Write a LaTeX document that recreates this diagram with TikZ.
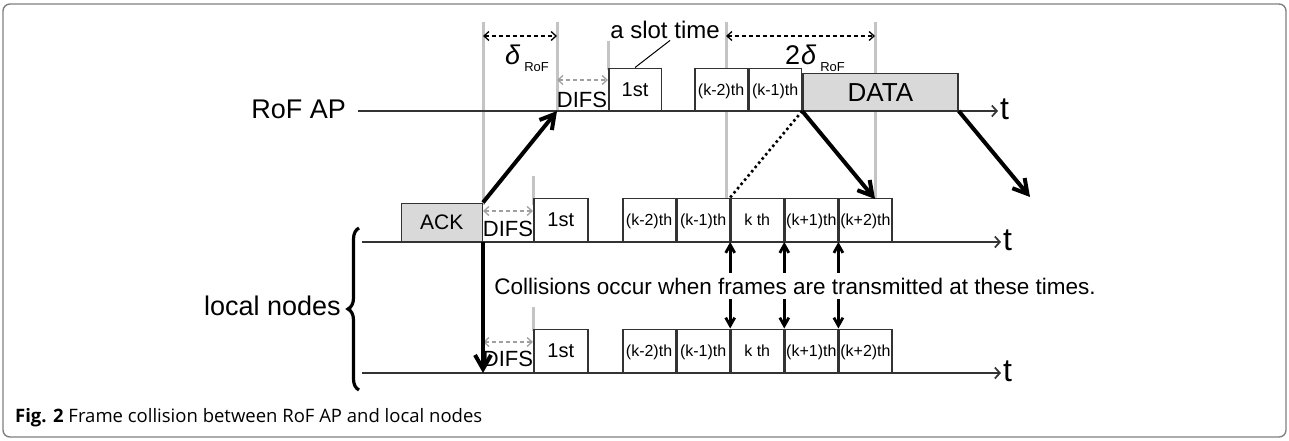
\documentclass[tikz,border=0pt]{standalone}
\usepackage{fontspec}
\setmainfont{Liberation Sans}
\newfontfamily\capfont{Open Sans}
\usetikzlibrary{positioning,arrows.meta,decorations.pathreplacing}

\definecolor{boxgray}{HTML}{D9D9D9}
\definecolor{guidegray}{HTML}{C4C4C4}
\definecolor{difsgray}{HTML}{A0A0A0}
\definecolor{axisgray}{HTML}{333333}

\tikzset{
  slotbox/.style={draw=axisgray, line width=1.5pt, fill=white, minimum width=52.6pt,
    minimum height=43pt, inner sep=0pt, text height=14.5pt, text depth=3pt,
    font=\fontsize{16}{16}\selectfont},
  firstbox/.style={slotbox, text height=17.3pt, font=\fontsize{20}{20}\selectfont},
  framebox/.style={slotbox, fill=boxgray, text height=18pt, font=\fontsize{21}{21}\selectfont},
  guide/.style={guidegray, line width=3pt},
  axis/.style={axisgray, line width=1.7pt, -{Straight Barb[length=5pt,width=11pt]}},
  span/.style={line width=1.3pt, dash pattern=on 4pt off 3pt,
    {Straight Barb[length=5pt,width=9pt]}-{Straight Barb[length=5pt,width=9pt]}},
  difs/.style={span, difsgray},
  sig/.style={line width=4pt, -{Straight Barb[length=14pt,width=16pt]}},
  hit/.style={line width=2.8pt, -{Straight Barb[length=8pt,width=9pt]}},
  big/.style={font=\fontsize{27}{27}\selectfont, inner sep=0pt},
  tlbl/.style={font=\fontsize{32}{32}\selectfont, inner sep=0pt, anchor=base west, yshift=-8pt, xshift=2pt},
  mid/.style={font=\fontsize{22}{22}\selectfont, inner sep=0pt},
}

\begin{document}
\begin{tikzpicture}[x=1pt,y=-1pt]
\useasboundingbox (0,0) rectangle (1289,440);
\draw[gray, line width=1.4pt, rounded corners=7pt] (3,4) rectangle (1286,437);

% time marks
\draw[guide] (483,22) -- (483,205);
\draw[guide] (557,22) -- (557,111);
\draw[guide] (608,41) -- (608,70);
\draw[guide] (726,22) -- (726,242);
\draw[guide] (875,22) -- (875,199);
\draw[guide] (533,176) -- (533,205);
\draw[guide] (533,307) -- (533,331);

% time axes
\node[big, anchor=base east] (apLbl) at (346,118) {RoF AP};
\coordinate (apS) at (358,111);
\coordinate (apE) at (998,111);
\coordinate (aS) at (362,242);
\coordinate (aE) at (1001,242);
\coordinate (bS) at (362,373);
\coordinate (bE) at (1001,373);
\draw[axis] (apS) -- (apE);
\draw[axis] (aS) -- (aE);
\draw[axis] (bS) -- (bE);
\node[tlbl] (apT) at (apE) {t};
\node[tlbl] (aT) at (aE) {t};
\node[tlbl] (bT) at (bE) {t};

\node[big, anchor=base east] (locLbl) at (341,315) {local nodes};
\draw[line width=3.2pt, decorate, decoration={brace, amplitude=11pt}] (359,390) -- (359,228);

% RoF AP frames
\node[firstbox, anchor=south west, minimum height=42pt] (apFirst) at (608,111) {1st};
\node[slotbox, anchor=south west, minimum height=42pt] (apM2) at (694,111) {(k-2)th};
\node[slotbox, right=0pt of apM2, minimum height=42pt] (apM1) {(k-1)th};
\node[framebox, anchor=south west, minimum width=155pt, minimum height=37pt,
  text height=21.6pt, font=\fontsize{26}{26}\selectfont] (data) at (apM1.south east) {DATA};

% local node frames
\node[framebox, anchor=south east, minimum width=81pt, minimum height=38pt] (ack) at (483,242) {ACK};
\foreach \y/\row in {242/a,373/b}{
  \node[firstbox, anchor=south west, minimum width=54pt] (\row first) at (533,\y) {1st};
  \node[slotbox, anchor=south west] (\row m2) at (622,\y) {(k-2)th};
  \node[slotbox, right=0pt of \row m2] (\row m1) {(k-1)th};
  \node[slotbox, right=0pt of \row m1] (\row k) {k th};
  \node[slotbox, right=0pt of \row k] (\row p1) {(k+1)th};
  \node[slotbox, right=0pt of \row p1] (\row p2) {(k+2)th};
}

% intervals
\draw[span] (483,36) -- (557,36);
\draw[span] (726,36) -- (875,36);
\draw[difs] (557,80) -- (608,80);
\draw[difs] (483,211) -- (533,211);
\draw[difs] (483,342) -- (533,342);
\node[inner sep=0pt] (dRoF) at (527,58) {\fontsize{27}{27}\selectfont\textit{δ}\hspace{4pt}\raisebox{-7pt}{\fontsize{13}{13}\selectfont RoF}};
\node[inner sep=0pt] (twoD) at (815,58) {\fontsize{27}{27}\selectfont 2\hspace{1pt}\textit{δ}\hspace{4pt}\raisebox{-7pt}{\fontsize{13}{13}\selectfont RoF}};
\node[mid, anchor=base] (difsAP) at (582,107) {DIFS};
\node[mid, anchor=base] (difsA) at (508,236) {DIFS};
\node[mid, anchor=base] (difsB) at (508,366) {DIFS};
\node[mid, anchor=base, font=\fontsize{24}{24}\selectfont] (slotLbl) at (665,38) {a slot time};
\draw[line width=1pt] ([xshift=5pt,yshift=-2pt]slotLbl.south) -- (apFirst.north);

% propagation
\coordinate (apDifs) at (557,111);
\coordinate (ackDown) at (483,373);
\coordinate (dataHit) at (875,199);
\coordinate (dataOut) at (1030,197);
\draw[sig] (ack.north east) -- (apDifs);
\draw[sig] (ack.south east) -- (ackDown);
\draw[line width=2.6pt, dash pattern=on 2.5pt off 3pt] (data.south west) -- (ak.north west);
\draw[sig] (data.south west) -- (dataHit);
\draw[sig] (data.south east) -- (dataOut);

% collisions
\node[mid, inner ysep=5pt, font=\fontsize{22.5}{22.5}\selectfont] (coll) at (795,286) {Collisions occur when frames are transmitted at these times.};
\foreach \n in {k,p1,p2}{
  \draw[hit] (a\n.south west |- coll.north) -- (a\n.south west);
  \draw[hit] (a\n.south west |- coll.south) -- (b\n.north west);
}

\node[anchor=base west, inner sep=0pt, font=\capfont\fontsize{18.5}{18.5}\selectfont] (cap) at (15,422)
  {\textbf{Fig. 2} Frame collision between RoF AP and local nodes};
\end{tikzpicture}
\end{document}
